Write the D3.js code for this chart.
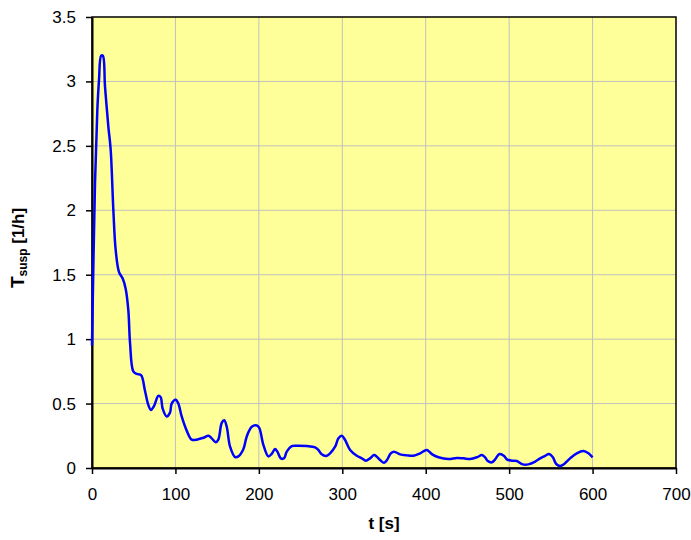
<!DOCTYPE html>
<html>
<head>
<meta charset="utf-8">
<script src="https://cdn.jsdelivr.net/npm/d3@7"></script>
<style>
  body { margin: 0; background: #fff; }
  svg text { font-family: "Liberation Sans", Arial, sans-serif; }
</style>
</head>
<body>
<div id="canvas"></div>
<script>
// time [s]
const tValues = [0, 3.6, 6.4, 8.4, 11, 13, 15.6, 19.6, 22.4, 25.6, 28.4, 32.4, 36.8, 40.4, 43.6, 45.6, 49.5, 53.6, 58.8, 63.5, 67.5, 70.7, 74.3, 79.5, 82.3, 84.7, 89.5, 93.5, 95.5, 100.3, 103.5, 107.5, 113.5, 119.5, 125.5, 133.5, 139.5, 143.5, 148.3, 151.4, 155.5, 158.5, 161.5, 165.5, 171.5, 175.4, 181.4, 185.5, 191.5, 197.5, 200.6, 205.4, 211.4, 215.4, 219.4, 222.2, 226.3, 230.2, 233.4, 239.4, 245.5, 257.5, 267.4, 271.3, 275.3, 280.6, 285.4, 291.4, 295.4, 299.4, 303.4, 309.4, 317.4, 323.4, 328.2, 333.3, 338.1, 341.4, 345.3, 350.1, 354.1, 358.1, 362.1, 369.3, 377.3, 385.3, 393.3, 401.3, 407.3, 415.3, 427.3, 437.3, 445.3, 453.2, 461.3, 467.3, 471.2, 474, 479.3, 483.2, 488.4, 494, 497.2, 503.2, 509.2, 516.3, 523, 531.2, 537.2, 543.2, 547.9, 552.4, 556.4, 561.2, 566, 573.1, 581.1, 589.1, 595.1, 600];
// T_susp [1/h]
const tsuspValues = [0.95, 2.21, 2.78, 3.01, 3.2, 3.2, 2.96, 2.65, 2.47, 2.0, 1.69, 1.52, 1.47, 1.39, 1.22, 0.97, 0.75, 0.73, 0.72, 0.6, 0.49, 0.45, 0.48, 0.56, 0.55, 0.46, 0.4, 0.43, 0.5, 0.53, 0.5, 0.4, 0.29, 0.22, 0.22, 0.235, 0.25, 0.23, 0.2, 0.22, 0.35, 0.37, 0.32, 0.165, 0.085, 0.09, 0.145, 0.245, 0.32, 0.33, 0.31, 0.18, 0.09, 0.11, 0.147, 0.127, 0.075, 0.075, 0.127, 0.17, 0.173, 0.17, 0.16, 0.14, 0.106, 0.093, 0.114, 0.165, 0.23, 0.25, 0.217, 0.14, 0.095, 0.075, 0.057, 0.075, 0.1, 0.088, 0.062, 0.04, 0.067, 0.114, 0.127, 0.106, 0.098, 0.095, 0.114, 0.14, 0.108, 0.083, 0.07, 0.078, 0.075, 0.07, 0.083, 0.1, 0.083, 0.057, 0.044, 0.067, 0.108, 0.093, 0.067, 0.057, 0.054, 0.028, 0.028, 0.05, 0.075, 0.095, 0.108, 0.083, 0.031, 0.016, 0.031, 0.075, 0.114, 0.132, 0.114, 0.083];

const xTicks = [0, 100, 200, 300, 400, 500, 600, 700];
const yTicks = [0, 0.5, 1, 1.5, 2, 2.5, 3, 3.5];

const W = 691, H = 540;
const plot = { left: 92, right: 676, top: 17, bottom: 468 };

const svg = d3.select('#canvas').append('svg')
	.attr('width', W)
	.attr('height', H);

const x = d3.scaleLinear().domain([0, 700]).range([plot.left, plot.right]);
const y = d3.scaleLinear().domain([0, 3.5]).range([plot.bottom, plot.top]);

svg.append('rect')
	.attr('x', plot.left)
	.attr('y', plot.top)
	.attr('width', plot.right - plot.left)
	.attr('height', plot.bottom - plot.top)
	.style('fill', '#FFFF99');

// grid
svg.append('g')
	.selectAll('line')
	.data(xTicks.slice(1, -1))
	.join('line')
		.attr('x1', d => x(d)).attr('x2', d => x(d))
		.attr('y1', plot.top).attr('y2', plot.bottom)
		.style('stroke', '#C0C0C0')
		.style('stroke-width', 1);
svg.append('g')
	.selectAll('line')
	.data(yTicks.slice(1, -1))
	.join('line')
		.attr('x1', plot.left).attr('x2', plot.right)
		.attr('y1', d => y(d)).attr('y2', d => y(d))
		.style('stroke', '#C0C0C0')
		.style('stroke-width', 1);

// frame
svg.append('rect')
	.attr('x', plot.left)
	.attr('y', plot.top)
	.attr('width', plot.right - plot.left)
	.attr('height', plot.bottom - plot.top)
	.style('fill', 'none')
	.style('stroke', '#000')
	.style('stroke-width', 1.5);

// axes
const xAxis = svg.append('g')
	.attr('transform', `translate(0,${plot.bottom})`)
	.call(d3.axisBottom(x).tickValues(xTicks).tickSize(6).tickPadding(14).tickSizeOuter(0));
const yAxis = svg.append('g')
	.attr('transform', `translate(${plot.left},0)`)
	.call(d3.axisLeft(y).tickValues(yTicks).tickSize(6).tickPadding(10).tickSizeOuter(0).tickFormat(d3.format('')));

[xAxis, yAxis].forEach(a => {
	a.select('.domain').style('stroke', '#000').style('stroke-width', 2);
	a.selectAll('.tick line').style('stroke', '#000').style('stroke-width', 1.5);
	a.selectAll('.tick text')
		.style('font-size', '17px')
		.style('fill', '#000');
});

// line
const line = d3.line()
	.x((d, i) => x(tValues[i]))
	.y(d => y(d))
	.curve(d3.curveCatmullRom.alpha(0.5));

svg.append('path')
	.datum(tsuspValues)
	.attr('d', line)
	.style('fill', 'none')
	.style('stroke', '#0000FF')
	.style('stroke-width', 2.5)
	.style('stroke-linejoin', 'round');

// titles
svg.append('text')
	.attr('x', (plot.left + plot.right) / 2)
	.attr('y', 529)
	.attr('text-anchor', 'middle')
	.style('font-size', '17px')
	.style('font-weight', 'bold')
	.text('t [s]');

const yt = svg.append('text')
	.attr('transform', `translate(24,248) rotate(-90)`)
	.attr('text-anchor', 'middle')
	.style('font-size', '17px')
	.style('font-weight', 'bold');
yt.append('tspan').style('font-size', '19px').text('T');
yt.append('tspan').style('font-size', '12px').attr('dy', 3).text('susp');
yt.append('tspan').attr('dy', -3).text(' [1/h]');
</script>
</body>
</html>
